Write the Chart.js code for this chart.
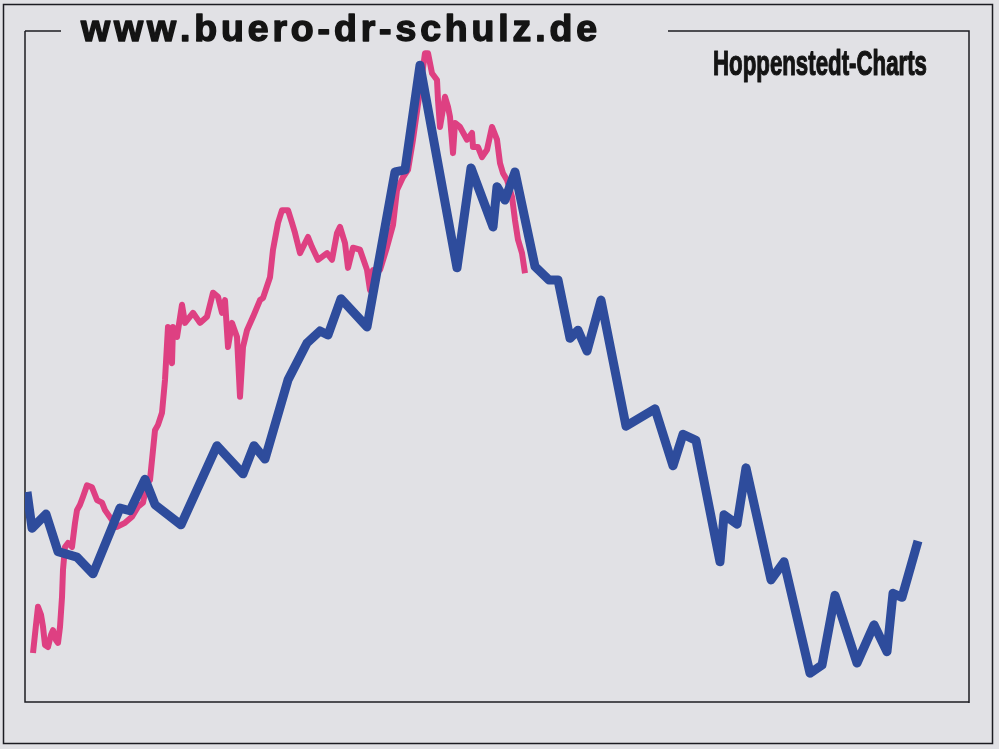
<!DOCTYPE html>
<html>
<head>
<meta charset="utf-8">
<script src="https://cdn.jsdelivr.net/npm/chart.js@4.4.1/dist/chart.umd.min.js"></script>
<style>
  html, body { margin: 0; padding: 0; background: #e1e1e5; }
  canvas { display: block; }
</style>
</head>
<body>
<canvas id="lineChart" width="999" height="749"></canvas>
<script>
// Blue series: week index and index value (0-100 scale)
const blueWeeks = [0.5, 1.75, 5.25, 8.25, 13, 17, 23.75, 26.25, 30, 32.5, 39, 48, 54.5, 57.25, 60, 65.75, 70.5, 73.75, 75.75, 79, 85.5, 92.5, 95, 98.75, 108, 111.5, 117, 118, 120, 122.5, 127.5, 131, 133.25, 136.25, 138.25, 140.5, 144, 150.25, 157.5, 162, 164.5, 167.75, 173.75, 174.75, 178, 180.25, 186.5, 189.75, 196.25, 199.25, 202.5, 208, 212.25, 215.5, 217, 219.25, 223.25];
const blueValues = [31.3, 25.9, 28.0, 22.4, 21.6, 19.1, 28.9, 28.5, 33.2, 29.4, 26.4, 38.2, 34.0, 38.2, 36.2, 48.0, 53.5, 55.3, 54.7, 60.1, 55.9, 79.0, 79.3, 94.9, 64.7, 79.6, 70.8, 76.8, 74.8, 79.0, 64.9, 62.9, 62.9, 54.2, 55.4, 52.3, 59.9, 41.1, 43.7, 35.2, 39.9, 39.0, 20.9, 27.9, 26.5, 34.9, 18.2, 20.9, 4.3, 5.5, 15.9, 5.8, 11.5, 7.5, 16.2, 15.6, 24.0];

// Pink series
const pinkWeeks = [2, 2.75, 3.25, 4, 4.5, 5, 5.75, 6.5, 7, 7.75, 8.25, 8.75, 9.25, 9.5, 10, 10.75, 11.75, 12.5, 13, 13.75, 14.5, 15.5, 16.75, 18, 19.25, 20, 21.75, 23, 25, 26.75, 28.25, 29.5, 30.5, 31.25, 32.5, 33.25, 34.25, 35, 35.75, 36.75, 37, 38, 39.25, 40, 42, 43.75, 45.5, 47, 48.25, 49.25, 50, 50.75, 51.75, 53, 53.75, 54.5, 55.5, 57, 58.75, 59.5, 61.25, 62, 63.25, 64.25, 65.75, 66.75, 67.5, 68.75, 70.75, 71.75, 73.25, 75.5, 76.75, 78, 78.75, 80, 80.75, 82, 83.75, 85.5, 86.25, 87, 88.75, 90.5, 92, 93, 94.5, 95.75, 97, 98.75, 100, 100.75, 101.75, 103, 103.25, 103.75, 105, 105.75, 106.25, 107, 107.5, 108.75, 110.5, 111.75, 112, 113.25, 114.25, 115.5, 116.75, 118, 118.75, 119.5, 120.5, 121.75, 122.5, 123.25, 124.25, 125];
const pinkValues = [7.3, 11.5, 14.2, 13.0, 11.2, 8.5, 8.2, 10.0, 10.7, 9.2, 8.8, 11.2, 15.6, 19.7, 23.1, 23.7, 23.1, 26.7, 28.6, 29.4, 30.6, 32.3, 32.0, 30.1, 29.7, 28.6, 27.1, 26.1, 26.7, 27.6, 29.1, 29.7, 32.6, 33.1, 40.5, 41.3, 43.1, 48.0, 55.9, 50.5, 55.9, 54.4, 59.2, 56.5, 58.0, 56.5, 57.4, 61.0, 60.4, 58.0, 59.9, 52.9, 56.5, 54.4, 45.5, 52.9, 55.4, 57.4, 59.9, 60.2, 63.3, 67.4, 71.4, 73.3, 73.3, 71.4, 69.9, 66.9, 69.3, 67.8, 65.9, 66.9, 65.9, 69.9, 70.8, 68.4, 64.7, 67.7, 67.4, 64.4, 61.4, 64.4, 64.4, 67.8, 71.1, 76.3, 78.2, 79.3, 83.8, 91.2, 96.7, 96.7, 93.7, 92.7, 89.7, 85.7, 90.2, 88.7, 87.2, 81.8, 86.3, 85.7, 83.8, 84.8, 82.7, 82.7, 81.2, 82.3, 85.7, 83.8, 80.3, 78.8, 77.8, 75.3, 71.8, 68.9, 66.9, 63.9];

const siteTitle = "www.buero-dr-schulz.de";
const brandText = "Hoppenstedt-Charts";

const bluePoints = blueWeeks.map((w, i) => ({ x: w, y: blueValues[i] }));
const pinkPoints = pinkWeeks.map((w, i) => ({ x: w, y: pinkValues[i] }));

// Background, frames and header texts
const framePlugin = {
  id: "frame",
  beforeDraw(chart) {
    const c = chart.ctx;
    const a = chart.chartArea;
    c.save();
    c.fillStyle = "#e1e1e5";
    c.fillRect(0, 0, chart.width, chart.height);

    c.strokeStyle = "#1c1c22";
    c.lineWidth = 1.5;
    c.strokeRect(3.5, 4.5, 989, 739);

    // inner frame (top line broken by the title)
    c.beginPath();
    c.moveTo(a.left, a.top);
    c.lineTo(a.left, a.bottom);
    c.lineTo(a.right, a.bottom);
    c.moveTo(a.right, a.bottom + 1);
    c.lineTo(a.right, a.top);
    c.lineTo(668, a.top);
    c.moveTo(a.left, a.top);
    c.lineTo(61, a.top);
    c.stroke();

    // site title, heavy and widely spaced
    c.fillStyle = "#141414";
    c.strokeStyle = "#141414";
    c.lineWidth = 1.4;
    c.lineJoin = "round";
    c.font = "bold 36px 'Liberation Sans', Arial, sans-serif";
    c.textBaseline = "alphabetic";
    const sx = 1.04;
    const chars = siteTitle.split("");
    const plain = chars.reduce((s, ch) => s + c.measureText(ch).width * sx, 0);
    const gap = (516 - plain) / (chars.length - 1);
    let x = 81;
    chars.forEach((ch) => {
      c.save();
      c.translate(x, 41);
      c.scale(sx, 1);
      c.fillText(ch, 0, 0);
      c.strokeText(ch, 0, 0);
      c.restore();
      x += c.measureText(ch).width * sx + gap;
    });

    // condensed brand text
    c.font = "bold 35px 'Liberation Sans', Arial, sans-serif";
    c.lineWidth = 1.2;
    const bw = c.measureText(brandText).width;
    c.translate(713, 75);
    c.scale(214 / bw, 1);
    c.fillText(brandText, 0, 0);
    c.strokeText(brandText, 0, 0);
    c.restore();
  },
};

const ctx = document.getElementById("lineChart").getContext("2d");

const myChart = new Chart(ctx, {
  type: "line",
  data: {
    datasets: [
      {
        data: bluePoints,
        borderColor: "#2e4c9c",
        borderWidth: 9,
        borderJoinStyle: "round",
        pointRadius: 0,
        tension: 0,
      },
      {
        data: pinkPoints,
        borderColor: "#de4082",
        borderWidth: 6,
        borderJoinStyle: "round",
        pointRadius: 0,
        tension: 0,
      },
    ],
  },
  options: {
    responsive: false,
    animation: false,
    layout: {
      padding: { left: 25, right: 30, top: 31, bottom: 47 },
    },
    plugins: {
      legend: { display: false },
      tooltip: { enabled: false },
    },
    scales: {
      x: { type: "linear", min: 0, max: 236, display: false },
      y: { min: 0, max: 100, display: false },
    },
  },
  plugins: [framePlugin],
});
</script>
</body>
</html>
